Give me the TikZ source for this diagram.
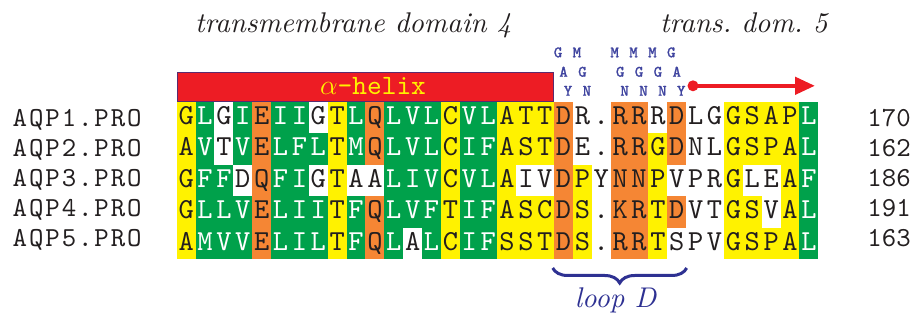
\RequirePackage{fix-cm}
\documentclass[tikz,border=0pt]{standalone}
\usepackage{fontspec}
\usetikzlibrary{arrows.meta,decorations.pathreplacing}

% fonts
\newfontfamily\resfont{lmmono10-regular.otf}
\newfontfamily\namefont{lmmono10-regular.otf}[LetterSpace=7]
\newfontfamily\motiffont{lmmono8-regular.otf}[FakeBold=1.2]
\newfontfamily\capfont{lmroman10-italic.otf}

% shading colours (y = similar, g = identical, o = conserved, w = none)
\definecolor{bgy}{HTML}{FFF200}
\definecolor{bgg}{HTML}{00A14B}
\definecolor{bgo}{HTML}{F58634}
\definecolor{bgw}{HTML}{FFFFFF}
\definecolor{ink}{HTML}{231F20}
\colorlet{fgy}{ink}
\colorlet{fgo}{ink}
\colorlet{fgw}{ink}
\definecolor{fgg}{HTML}{FFFFFF}
\definecolor{helixred}{HTML}{ED1C24}
\definecolor{helixedge}{HTML}{5B2A6E}
\definecolor{helixtext}{HTML}{FFF200}
\definecolor{loopblue}{HTML}{2E3192}
\definecolor{motifblue}{HTML}{3F449F}

% one alignment row: #1 = row number, #2 = list of shade/residue pairs
\newcommand\seqrow[2]{%
  \foreach \bgc/\res [count=\k] in {#2} {%
    \pgfmathsetmacro\xx{176.7+(\k-1)*18.87}%
    \pgfmathsetmacro\yy{101.7+(#1-1)*31.46}%
    \node[cell, fill=bg\bgc, text=fg\bgc] (s#1-\k) at (\xx,\yy) {\res};
  }%
}

\begin{document}
\begin{tikzpicture}[x=1pt,y=-1pt,
  cell/.style={anchor=north west, inner sep=0pt, outer sep=0pt,
    minimum width=19.0pt, minimum height=31.6pt,
    text height=22.6pt, text depth=9.0pt,
    font=\fontsize{29}{29}\resfont},
  seqname/.style={anchor=base west, inner sep=0pt, text=ink,
    font=\fontsize{27.5}{27.5}\namefont},
  seqlen/.style={anchor=base east, inner sep=0pt, text=ink,
    font=\fontsize{27.5}{27.5}\resfont},
  tmtitle/.style={anchor=base west, inner sep=0pt, text=ink,
    font=\fontsize{28.5}{28.5}\capfont},
  helixbar/.style={anchor=north west, draw=helixedge, line width=1.3pt,
    fill=helixred, minimum width=376pt, minimum height=29.5pt, inner sep=0pt},
  helixlabel/.style={anchor=base, inner sep=0pt, text=helixtext,
    font=\fontsize{28}{28}\resfont},
  helixdot/.style={circle, fill=helixred, minimum size=11pt, inner sep=0pt},
  helixarrow/.style={draw=helixred, line width=4.5pt,
    -{Triangle[length=20pt,width=17pt]}},
  motif/.style={anchor=base, inner sep=0pt, text=motifblue,
    font=\fontsize{16}{16}\motiffont},
  loopbrace/.style={draw=loopblue, line width=3pt, decorate,
    decoration={brace, amplitude=15pt}},
  looplabel/.style={anchor=base, inner sep=0pt, text=loopblue,
    font=\fontsize{28.5}{28.5}\capfont}]

\useasboundingbox (0,0) rectangle (918,320);

% domain titles
\node[tmtitle] (tm4) at (195,33) {transmembrane domain 4};
\node[tmtitle] (tm5) at (660,33) {trans.\ dom.\ 5};

% helix bar
\node[helixbar] (helix) at (176.7,71.7) {};
\node[helixlabel] (helixtxt) at (373,95) {$\alpha$-helix};

% strand arrow
\node[helixdot] (hdot) at (693,85.8) {};
\coordinate (hend) at (815,85.8);
\draw[helixarrow] (hdot.center) -- (hend);

% stacked motif letters above loop D
\foreach \k/\ta/\tb/\tc in {21/G/A/Y,22/M/G/N,24/M/G/N,25/M/G/N,26/M/G/N,27/G/A/Y} {
  \pgfmathsetmacro\xc{176.7+(\k-0.5)*18.87}
  \node[motif] (ma\k) at (\xc-5.5,57.3) {\ta};
  \node[motif] (mb\k) at (\xc,76.7) {\tb};
  \node[motif] (mc\k) at (\xc+4.5,95.7) {\tc};
}

% alignment
\seqrow{1}{y/G,g/L,w/G,g/I,o/E,g/I,g/I,w/G,y/T,g/L,o/Q,g/L,g/V,g/L,y/C,g/V,g/L,y/A,y/T,y/T,o/D,w/R,w/.,o/R,o/R,w/R,o/D,w/L,w/G,y/G,y/S,y/A,y/P,g/L}
\seqrow{2}{y/A,g/V,w/T,g/V,o/E,g/L,g/F,g/L,y/T,g/M,o/Q,g/L,g/V,g/L,y/C,g/I,g/F,y/A,y/S,y/T,o/D,w/E,w/.,o/R,o/R,y/G,o/D,w/N,w/L,y/G,y/S,y/P,y/A,g/L}
\seqrow{3}{y/G,g/F,g/F,w/D,o/Q,g/F,g/I,w/G,y/T,w/A,w/A,g/L,g/I,g/V,y/C,g/V,g/L,y/A,w/I,w/V,o/D,y/P,w/Y,o/N,o/N,y/P,w/V,w/P,w/R,y/G,w/L,w/E,y/A,g/F}
\seqrow{4}{y/G,g/L,g/L,g/V,o/E,g/L,g/I,g/I,y/T,g/F,o/Q,g/L,g/V,g/F,y/T,g/I,g/F,y/A,y/S,y/C,o/D,y/S,w/.,o/K,o/R,y/T,o/D,w/V,w/T,y/G,y/S,w/V,y/A,g/L}
\seqrow{5}{y/A,g/M,g/V,g/V,o/E,g/L,g/I,g/L,y/T,g/F,o/Q,g/L,w/A,g/L,y/C,g/I,g/F,y/S,y/S,y/T,o/D,y/S,w/.,o/R,o/R,y/T,w/S,w/P,w/V,y/G,y/S,y/P,y/A,g/L}

% sequence names and residue numbers
\foreach \n/\len [count=\r] in {1/170,2/162,3/186,4/191,5/163} {
  \pgfmathsetmacro\yb{126.7+(\r-1)*30}
  \node[seqname] (name\r) at (12.5,\yb) {AQP\n.PRO};
  \node[seqlen] (len\r) at (911,\yb) {\len};
}

% loop D brace
\coordinate (bl) at (552.7,268);
\coordinate (br) at (686.7,268);
\draw[loopbrace] (br) -- (bl);
\node[looplabel] (loopD) at (615.5,308) {loop D};

\end{tikzpicture}
\end{document}
